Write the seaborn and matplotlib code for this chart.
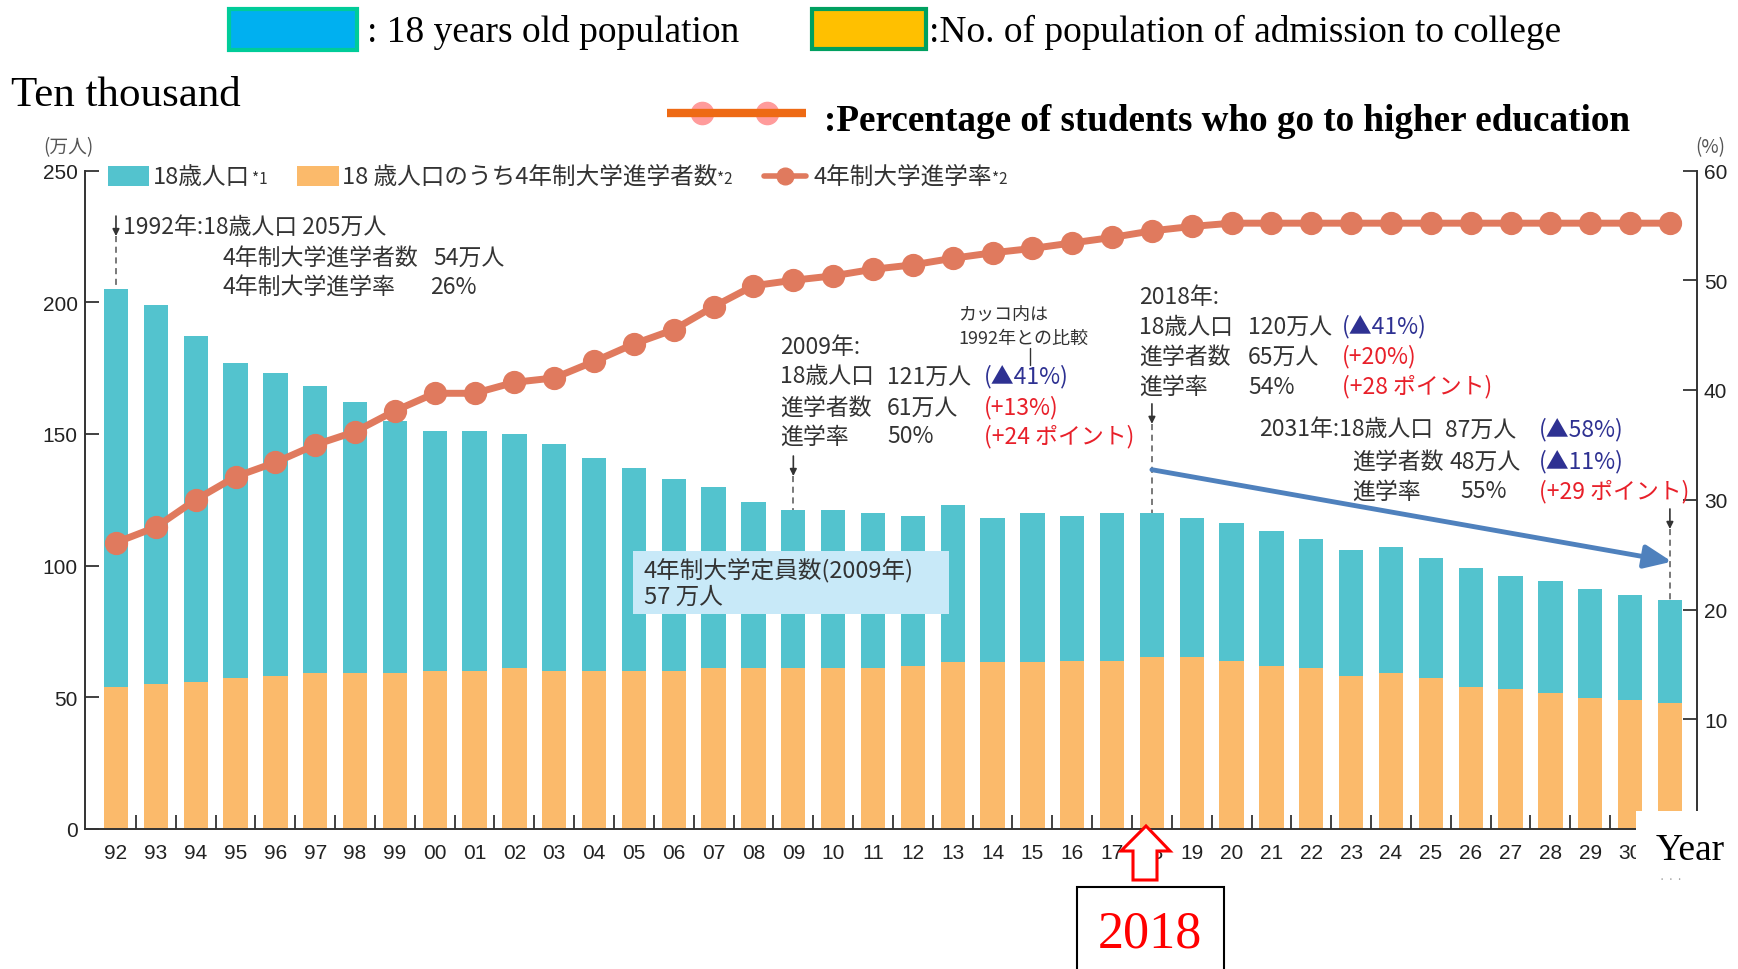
import numpy as np
import pandas as pd
import matplotlib
matplotlib.use("Agg")
import matplotlib.pyplot as plt
import seaborn as sns
from matplotlib.patches import Rectangle, Polygon
from matplotlib.lines import Line2D

# ---------------- data ----------------
years = ['92', '93', '94', '95', '96', '97', '98', '99', '00', '01',
         '02', '03', '04', '05', '06', '07', '08', '09', '10', '11',
         '12', '13', '14', '15', '16', '17', '18', '19', '20', '21',
         '22', '23', '24', '25', '26', '27', '28', '29', '30', '31']
pop18 = [205, 199, 187, 177, 173, 168, 162, 155, 151, 151,
         150, 146, 141, 137, 133, 130, 124, 121, 121, 120,
         119, 123, 118, 120, 119, 120, 120, 118, 116, 113,
         110, 106, 107, 103, 99, 96, 94, 91, 89, 87]
entrants = [54, 55.2, 55.8, 57.2, 58, 59.3, 59.3, 59.3, 60, 60,
            61.3, 60, 60, 60, 60, 61.3, 61.3, 61.3, 61.3, 61.3,
            62, 63.3, 63.3, 63.3, 63.9, 63.9, 65.3, 65.3, 63.9, 62,
            61.3, 58, 59.3, 57.2, 53.8, 53, 51.8, 49.8, 49, 48]
rate = [26.1, 27.5, 30.0, 32.1, 33.4, 35.0, 36.2, 38.1, 39.7, 39.7,
        40.7, 41.1, 42.6, 44.2, 45.5, 47.6, 49.5, 50.0, 50.4, 51.0,
        51.4, 52.0, 52.5, 52.9, 53.4, 53.9, 54.5, 54.9, 55.2, 55.2,
        55.2, 55.2, 55.2, 55.2, 55.2, 55.2, 55.2, 55.2, 55.2, 55.2]
left_ticks = [0, 50, 100, 150, 200, 250]
right_ticks = [10, 20, 30, 40, 50, 60]

# ---------------- style ----------------
TEAL = '#53C3CE'
ORANGE = '#FBBA6B'
LINE = '#E07A5E'
TXT = '#333333'
NAVY = '#2E3192'
RED = '#E8202A'
BLUE = '#4F81BD'
SERIF = 'Liberation Serif'
JS = 16.5  # size of Japanese annotation text

sns.set_theme(style='white')
plt.rcParams['font.family'] = ['Noto Sans CJK JP', 'DejaVu Sans']

W, H = 1738, 970
fig = plt.figure(figsize=(W / 100, H / 100), dpi=100)
AX_L, AX_R, AX_T, AX_B = 84.5, 1697, 171.5, 830
ax = fig.add_axes([AX_L / W, 1 - AX_B / H, (AX_R - AX_L) / W, (AX_B - AX_T) / H])

df = pd.DataFrame({'year': years, 'pop': pop18, 'ent': entrants, 'rate': rate})

sns.barplot(data=df, x='year', y='pop', color=TEAL, saturation=1, width=0.61,
            errorbar=None, linewidth=0, ax=ax, zorder=1)
sns.barplot(data=df, x='year', y='ent', color=ORANGE, saturation=1, width=0.61,
            errorbar=None, linewidth=0, ax=ax, zorder=2)

ax2 = ax.twinx()
sns.pointplot(data=df, x='year', y='rate', color=LINE, markers='o', errorbar=None,
              markersize=13, linewidth=5, ax=ax2)

XL = (-0.79, 39.68)
ax.set_xlim(*XL)
ax2.set_xlim(*XL)
ax.set_ylim(0, 250)
ax2.set_ylim(0, 60)
for a in (ax, ax2):
    a.set_xlabel('')
    a.set_ylabel('')

# axes / ticks
ax.set_xticks(range(len(years)))
ax.set_xticklabels(years)
ax.get_xticklabels()[-1].set_visible(False)  # hidden under the "Year" box in the reference
ax.set_xticks(np.arange(0.5, len(years) - 1, 1), minor=True)
ax.tick_params(axis='x', which='major', length=0, pad=10, labelsize=15,
               labelcolor='#222222', labelfontfamily='Liberation Sans')
ax.tick_params(axis='x', which='minor', direction='in', length=10, width=1.3,
               color=TXT, bottom=True)
ax.set_yticks(left_ticks)
ax.tick_params(axis='y', direction='in', length=10, width=1.3, color=TXT, left=True,
               right=False, pad=5, labelsize=15, labelcolor='#222222',
               labelfontfamily='Liberation Sans')
ax2.set_yticks(right_ticks)
ax2.tick_params(axis='y', direction='in', length=10, width=1.3, color=TXT, right=True,
                left=False, pad=5, labelsize=15, labelcolor='#222222',
                labelfontfamily='Liberation Sans')
for s in ['top', 'right']:
    ax.spines[s].set_visible(False)
for s in ['top', 'left', 'bottom']:
    ax2.spines[s].set_visible(False)
for a, s in [(ax, 'left'), (ax, 'bottom'), (ax2, 'right')]:
    a.spines[s].set_color(TXT)
    a.spines[s].set_linewidth(1.4)
ax.grid(False)
ax2.grid(False)


# ---------------- helpers ----------------
def ftxt(x, y, s, size=JS, color=TXT, ha='left', va='center', family=None,
         weight='normal', z=5):
    kw = {}
    if family is not None:
        kw['family'] = family
    return fig.text(x / W, 1 - y / H, s, fontsize=size, color=color, ha=ha, va=va,
                    fontweight=weight, zorder=z, **kw)


def frect(x0, y0, x1, y1, fc, ec='none', lw=0, z=4):
    r = Rectangle((x0 / W, 1 - y1 / H), (x1 - x0) / W, (y1 - y0) / H,
                  transform=fig.transFigure, facecolor=fc, edgecolor=ec,
                  linewidth=lw, zorder=z)
    fig.add_artist(r)
    return r


def fline(xs, ys, z=5, **kw):
    ln = Line2D([x / W for x in xs], [1 - y / H for y in ys],
                transform=fig.transFigure, zorder=z, **kw)
    fig.add_artist(ln)
    return ln


# ---------------- English header ----------------
frect(229, 10, 357, 51, '#00B0F0', ec='#00CC99', lw=3)
ftxt(367, 42, ': 18 years old population', size=27, color='black', va='baseline',
     family=SERIF)
frect(812, 10, 926, 50, '#FFC000', ec='#00A060', lw=3)
ftxt(929, 42, ':No. of population of admission to college', size=26.9, color='black',
     va='baseline', family=SERIF)
ftxt(11, 106, 'Ten thousand', size=31, color='black', va='baseline', family=SERIF)

fline([702, 767], [114, 114], z=4, linestyle='none', marker='o', markersize=16,
      markerfacecolor='#FF9B9B', markeredgecolor='#FF9B9B')
fline([667, 806], [114, 114], z=5, color='#EE6A14', linewidth=6, solid_capstyle='butt')
ftxt(824, 131, ':Percentage of students who go to higher education', size=26.7,
     color='black', va='baseline', family=SERIF, weight='bold')

# ---------------- Japanese legend ----------------
ftxt(68, 148, '(万人)', size=13.5, color='#555555', ha='center')
ftxt(1710, 148, '(%)', size=13.5, color='#555555', ha='center')

frect(108, 167, 149, 187, TEAL)
ftxt(153, 177, '18歳人口', size=17)
ftxt(252, 180, '*1', size=11)
frect(297, 167, 339, 187, ORANGE)
ftxt(342, 177, '18 歳人口のうち4年制大学進学者数', size=17)
ftxt(717, 180, '*2', size=11)
fline([764, 806], [177, 177], color=LINE, linewidth=4)
fline([785], [177], linestyle='none', marker='o', markersize=12,
      markerfacecolor=LINE, markeredgecolor=LINE)
ftxt(814, 177, '4年制大学進学率', size=17)
ftxt(992, 180, '*2', size=11)

# ---------------- annotation arrows (data coords) ----------------
def down_arrow(i, ytop, yhead, ybar):
    ax.annotate('', xy=(i, yhead), xytext=(i, ytop),
                arrowprops=dict(arrowstyle='-|>', color='#333333', lw=1.2,
                                mutation_scale=10, shrinkA=0, shrinkB=0),
                zorder=6, annotation_clip=False)
    ax.plot([i, i], [yhead, ybar], color='#555555', lw=1.1, ls=(0, (4, 3)), zorder=6)


down_arrow(0, 232.7, 225.1, pop18[0])
down_arrow(17, 141.6, 134.0, pop18[17])
down_arrow(26, 161.4, 153.8, pop18[26])
down_arrow(39, 121.5, 113.9, pop18[39])

ax.annotate('', xy=(39.05, 101.5), xytext=(26, 136.4),
            arrowprops=dict(arrowstyle='-|>,head_length=0.75,head_width=0.32',
                            color=BLUE, lw=3.5, mutation_scale=22,
                            shrinkA=0, shrinkB=0),
            zorder=7, annotation_clip=False)

# ---------------- annotation texts ----------------
ftxt(123, 227, '1992年:18歳人口 205万人')
ftxt(222, 258, '4年制大学進学者数')
ftxt(433, 258, '54万人')
ftxt(222, 287, '4年制大学進学率')
ftxt(430, 287, '26%')

ftxt(958, 315, 'カッコ内は', size=13)
ftxt(958, 339, '1992年との比較', size=13)
fline([1030, 1030], [349, 366], color='#333333', linewidth=1)

ftxt(780, 348, '2009年:')
ftxt(780, 377, '18歳人口')
ftxt(887, 377, '121万人')
ftxt(984, 377, '(▲41%)', color=NAVY)
ftxt(780, 408, '進学者数')
ftxt(887, 408, '61万人')
ftxt(984, 408, '(+13%)', color=RED)
ftxt(780, 437, '進学率')
ftxt(887, 437, '50%')
ftxt(984, 437, '(+24 ポイント)', color=RED)

ftxt(1139, 298, '2018年:')
ftxt(1139, 327, '18歳人口')
ftxt(1248, 327, '120万人')
ftxt(1342, 327, '(▲41%)', color=NAVY)
ftxt(1139, 357, '進学者数')
ftxt(1248, 357, '65万人')
ftxt(1342, 357, '(+20%)', color=RED)
ftxt(1139, 387, '進学率')
ftxt(1248, 387, '54%')
ftxt(1342, 387, '(+28 ポイント)', color=RED)

ftxt(1259, 430, '2031年:18歳人口')
ftxt(1445, 430, '87万人')
ftxt(1539, 430, '(▲58%)', color=NAVY)
ftxt(1352, 462, '進学者数')
ftxt(1450, 462, '48万人')
ftxt(1539, 462, '(▲11%)', color=NAVY)
ftxt(1352, 492, '進学率')
ftxt(1460, 492, '55%')
ftxt(1539, 492, '(+29 ポイント)', color=RED)

frect(633, 552, 949, 615, '#C8E9F8', z=4)
ftxt(644, 570, '4年制大学定員数(2009年)', size=17)
ftxt(644, 597, '57 万人', size=17)

# ---------------- bottom decorations ----------------
frect(1636, 812, 1738, 900, 'white', z=8)
ftxt(1656, 860, 'Year', size=27, color='black', va='baseline', family=SERIF, z=9)
ftxt(1671, 880, '· · ·', size=8, color='#999999', ha='center', z=9)

pts = [(1146, 827), (1170, 852), (1157, 852), (1157, 881), (1133, 881),
       (1133, 852), (1121, 852)]
arrow = Polygon([(x / W, 1 - y / H) for x, y in pts], closed=True,
                transform=fig.transFigure, facecolor='white', edgecolor='#FF0000',
                linewidth=2.2, zorder=8)
fig.add_artist(arrow)

frect(1077, 888, 1224, 985, 'white', ec='black', lw=1.5, z=8)
ftxt(1150, 948, '2018', size=37.5, color='#FF0000', ha='center', va='baseline',
     family=SERIF, z=9)

fig.savefig('out.png', dpi=100)
